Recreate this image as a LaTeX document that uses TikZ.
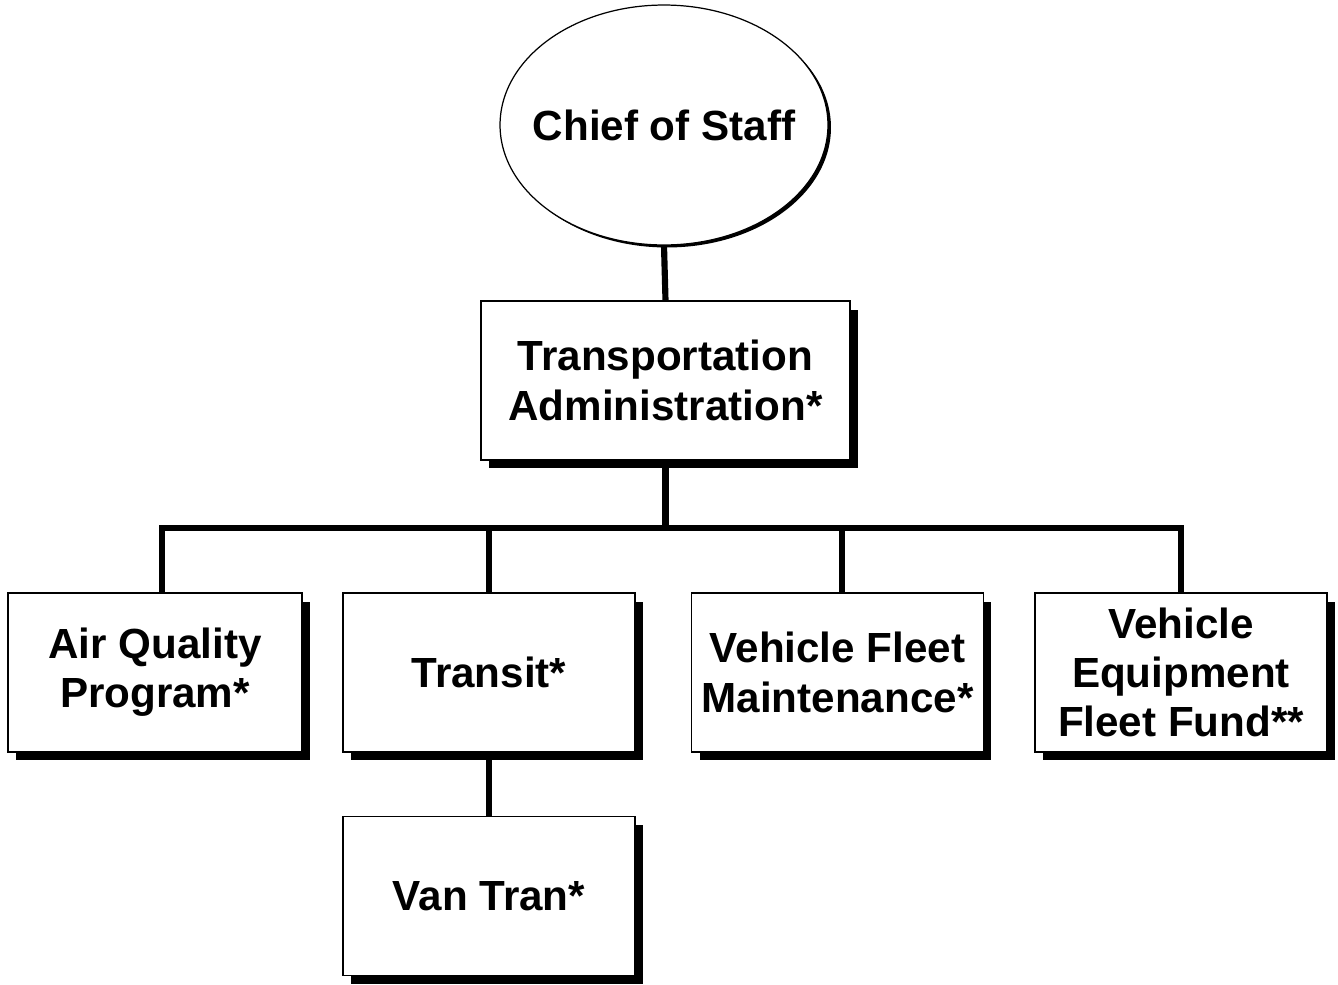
\documentclass[tikz,border=0pt]{standalone}
\usepackage{fontspec}
\setmainfont{Liberation Sans}
\usetikzlibrary{shapes.geometric,shadows}

\tikzset{
  orgfont/.style={font=\fontsize{24pt}{28pt}\selectfont\bfseries},
  unitbox/.style={draw, line width=0.7pt, fill=white, align=center, orgfont,
    minimum width=5.84cm, minimum height=3.18cm, inner sep=0pt,
    drop shadow={shadow xshift=0.16cm, shadow yshift=-0.17cm, fill=black, opacity=1}},
  chiefoval/.style={ellipse, draw, line width=0.7pt, fill=white, orgfont,
    minimum width=6.56cm, minimum height=4.8cm, inner sep=0pt,
    drop shadow={shadow xshift=0.06cm, shadow yshift=-0.05cm, fill=black, opacity=1}},
  orgline/.style={line width=3.5pt}
}

\begin{document}
\begin{tikzpicture}[x=0.02cm, y=-0.02cm]
    \useasboundingbox (0, 0) rectangle (1338, 984);

    \node[chiefoval] (chief) at (664, 125) {\makebox[0pt]{Chief of Staff}};
    \node[unitbox, minimum width=7.38cm] (admin) at (665.5, 380.5)
        {Transportation\\Administration*};

    \node[unitbox, minimum width=5.88cm] (aq) at (155, 672.5) {Air Quality\\Program*};
    \node[unitbox] (transit) at (489, 672.5) {Transit*};
    \node[unitbox] (vfm) at (837.5, 672.5) {Vehicle Fleet\\Maintenance*};
    \node[unitbox] (vefund) at (1181, 672.5) {Vehicle\\Equipment\\Fleet Fund**};
    \node[unitbox] (vantran) at (489, 896) {Van Tran*};

%   bus between admin and the four units
    \coordinate (busL) at (162, 528);
    \coordinate (busR) at (1181, 528);

    \draw[orgline] (chief.south) -- (admin.north);
    \draw[orgline] (admin.south) -- (admin.south |- busL);
    \draw[orgline] (busL |- aq.north) -- (busL) -- (busR) -- (vefund.north);
    \draw[orgline] (transit.north |- busL) -- (transit.north);
    \draw[orgline] (842, 528) -- (842, 593);
    \draw[orgline] (transit.south) -- (vantran.north);
\end{tikzpicture}
\end{document}
